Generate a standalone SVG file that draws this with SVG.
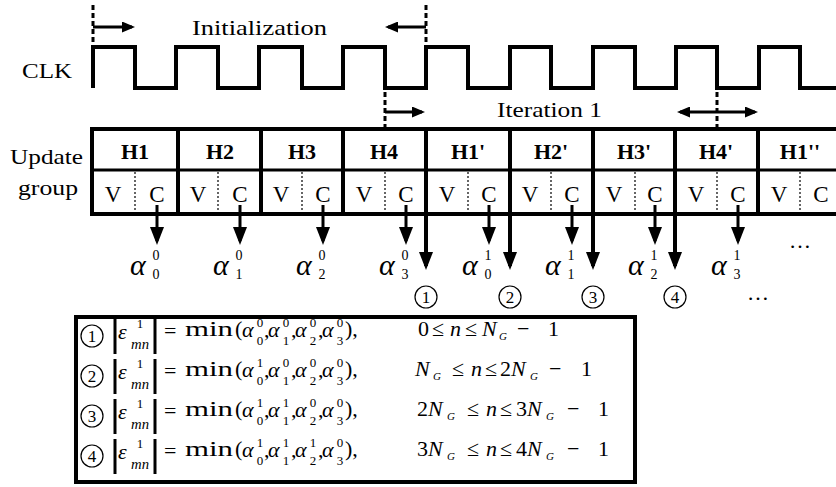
<svg xmlns="http://www.w3.org/2000/svg" width="836" height="487" viewBox="0 0 836 487" font-family="'Liberation Serif', 'Times New Roman', serif">
<style>
text{font-family:"Liberation Serif","Times New Roman",serif;fill:#000}
.lbl{font-size:22px}
.hd{font-size:22px;font-weight:bold;text-anchor:middle}
.vc{font-size:23px;text-anchor:middle}
.thick{stroke:#000;stroke-width:4;fill:none}
.mid{stroke:#000;stroke-width:3;fill:none}
.dot{stroke:#000;stroke-width:1.2;stroke-dasharray:2 2;fill:none}
.dash{stroke:#000;stroke-width:3;stroke-dasharray:5 3;fill:none}
.arr{stroke:#000;stroke-width:3;fill:none}
.ga{font-size:30px;font-style:italic}
.ix{font-size:14px;text-anchor:middle}
.cn{fill:#fff;stroke:#000;stroke-width:1.2}
.cd{font-size:17px;text-anchor:middle}
.m{font-size:22px}
.mi{font-size:22px;font-style:italic}
.s{font-size:13px;text-anchor:middle}
.si{font-size:14px;font-style:italic}
.g{font-size:11px;font-style:italic}
.bar{stroke:#000;stroke-width:3}
</style>
<defs>
<marker id="down" markerUnits="userSpaceOnUse" markerWidth="18" markerHeight="14" refX="14" refY="7" orient="auto">
<path d="M0,0 L18,7 L0,14 Z" fill="#000"/>
</marker>
<marker id="side" markerUnits="userSpaceOnUse" markerWidth="13" markerHeight="11" refX="10" refY="5.5" orient="auto-start-reverse">
<path d="M0,0 L13,5.5 L0,11 Z" fill="#000"/>
</marker>
</defs>

<!-- clock waveform and phase markers -->
<g id="clock">
<text class="lbl" x="22" y="78" font-size="20" textLength="50" lengthAdjust="spacingAndGlyphs">CLK</text>
<path class="thick" d="M93,88 V47 H135 V88 H176 V47 H218 V88 H259 V47 H302 V88 H343 V47 H385 V88 H426 V47 H468 V88 H510 V47 H551 V88 H593 V47 H635 V88 H676 V47 H717 V88 H759 V47 H800 V88 H836"/>
<line class="dash" x1="93" y1="5" x2="93" y2="46"/>
<line class="dash" x1="426" y1="5" x2="426" y2="46"/>
<line class="dash" x1="385" y1="92" x2="385" y2="128"/>
<line class="dash" x1="717" y1="92" x2="717" y2="128"/>
</g>

<g id="phase-labels">
<text class="lbl" x="192" y="35" textLength="135" lengthAdjust="spacingAndGlyphs">Initialization</text>
<text class="lbl" x="497" y="117" textLength="105" lengthAdjust="spacingAndGlyphs">Iteration 1</text>
</g>

<!-- update group table -->
<g id="update-table">
<text class="lbl" x="10" y="164" textLength="73" lengthAdjust="spacingAndGlyphs">Update</text>
<text class="lbl" x="18" y="195" textLength="60" lengthAdjust="spacingAndGlyphs">group</text>
<line class="thick" x1="90" y1="129" x2="836" y2="129"/>
<line class="mid" x1="92" y1="170" x2="836" y2="170"/>
<line class="thick" x1="90" y1="214" x2="836" y2="214"/>
<g class="thick">
<line x1="92" y1="127" x2="92" y2="216"/>
<line x1="178" y1="127" x2="178" y2="216"/>
<line x1="261" y1="127" x2="261" y2="216"/>
<line x1="343" y1="127" x2="343" y2="216"/>
<line x1="426" y1="127" x2="426" y2="216"/>
<line x1="510" y1="127" x2="510" y2="216"/>
<line x1="593" y1="127" x2="593" y2="216"/>
<line x1="675" y1="127" x2="675" y2="216"/>
<line x1="758" y1="127" x2="758" y2="216"/>
</g>
<g class="dot">
<line x1="135" y1="172" x2="135" y2="212"/>
<line x1="218" y1="172" x2="218" y2="212"/>
<line x1="302" y1="172" x2="302" y2="212"/>
<line x1="385" y1="172" x2="385" y2="212"/>
<line x1="468" y1="172" x2="468" y2="212"/>
<line x1="551" y1="172" x2="551" y2="212"/>
<line x1="635" y1="172" x2="635" y2="212"/>
<line x1="717" y1="172" x2="717" y2="212"/>
<line x1="800" y1="172" x2="800" y2="212"/>
</g>
</g>

<g id="H1"><text class="hd" x="135" y="159">H1</text><text class="vc" x="113" y="202">V</text><text class="vc" x="157" y="202">C</text></g>
<g id="H2"><text class="hd" x="220" y="159">H2</text><text class="vc" x="198" y="202">V</text><text class="vc" x="240" y="202">C</text></g>
<g id="H3"><text class="hd" x="302" y="159">H3</text><text class="vc" x="281" y="202">V</text><text class="vc" x="323" y="202">C</text></g>
<g id="H4"><text class="hd" x="384" y="159">H4</text><text class="vc" x="364" y="202">V</text><text class="vc" x="406" y="202">C</text></g>
<g id="H1p"><text class="hd" x="468" y="159">H1'</text><text class="vc" x="447" y="202">V</text><text class="vc" x="489" y="202">C</text></g>
<g id="H2p"><text class="hd" x="551" y="159">H2'</text><text class="vc" x="530" y="202">V</text><text class="vc" x="572" y="202">C</text></g>
<g id="H3p"><text class="hd" x="634" y="159">H3'</text><text class="vc" x="614" y="202">V</text><text class="vc" x="655" y="202">C</text></g>
<g id="H4p"><text class="hd" x="716" y="159">H4'</text><text class="vc" x="696" y="202">V</text><text class="vc" x="738" y="202">C</text></g>
<g id="H1pp"><text class="hd" x="800" y="159">H1''</text><text class="vc" x="779" y="202">V</text><text class="vc" x="821" y="202">C</text></g>

<!-- arrows -->
<g id="connectors">
<line class="arr" x1="93" y1="27" x2="132" y2="27" marker-end="url(#side)"/>
<line class="arr" x1="426" y1="27" x2="388" y2="27" marker-end="url(#side)"/>
<line class="arr" x1="385" y1="112" x2="422" y2="112" marker-end="url(#side)"/>
<line class="arr" x1="680" y1="112" x2="755" y2="112" marker-start="url(#side)" marker-end="url(#side)"/>
<g class="arr">
<line x1="157" y1="205" x2="157" y2="241" marker-end="url(#down)"/>
<line x1="240" y1="205" x2="240" y2="241" marker-end="url(#down)"/>
<line x1="323" y1="205" x2="323" y2="241" marker-end="url(#down)"/>
<line x1="406" y1="205" x2="406" y2="241" marker-end="url(#down)"/>
<line x1="489" y1="205" x2="489" y2="241" marker-end="url(#down)"/>
<line x1="572" y1="205" x2="572" y2="241" marker-end="url(#down)"/>
<line x1="655" y1="205" x2="655" y2="241" marker-end="url(#down)"/>
<line x1="738" y1="205" x2="738" y2="241" marker-end="url(#down)"/>
</g>
<g class="thick">
<line x1="426" y1="214" x2="426" y2="266" marker-end="url(#down)"/>
<line x1="510" y1="214" x2="510" y2="266" marker-end="url(#down)"/>
<line x1="593" y1="214" x2="593" y2="266" marker-end="url(#down)"/>
<line x1="675" y1="214" x2="675" y2="266" marker-end="url(#down)"/>
</g>
</g>

<!-- check-node outputs -->
<g id="alpha-0-0"><text class="ga" x="130" y="275">α</text><text class="ix" x="156" y="260">0</text><text class="ix" x="156" y="279">0</text></g>
<g id="alpha-1-0"><text class="ga" x="213" y="275">α</text><text class="ix" x="239" y="260">0</text><text class="ix" x="239" y="279">1</text></g>
<g id="alpha-2-0"><text class="ga" x="296" y="275">α</text><text class="ix" x="322" y="260">0</text><text class="ix" x="322" y="279">2</text></g>
<g id="alpha-3-0"><text class="ga" x="379" y="275">α</text><text class="ix" x="405" y="260">0</text><text class="ix" x="405" y="279">3</text></g>
<g id="alpha-0-1"><text class="ga" x="462" y="275">α</text><text class="ix" x="488" y="260">1</text><text class="ix" x="488" y="279">0</text></g>
<g id="alpha-1-1"><text class="ga" x="545" y="275">α</text><text class="ix" x="571" y="260">1</text><text class="ix" x="571" y="279">1</text></g>
<g id="alpha-2-1"><text class="ga" x="628" y="275">α</text><text class="ix" x="654" y="260">1</text><text class="ix" x="654" y="279">2</text></g>
<g id="alpha-3-1"><text class="ga" x="711" y="275">α</text><text class="ix" x="737" y="260">1</text><text class="ix" x="737" y="279">3</text></g>
<text class="m" x="800" y="248" text-anchor="middle">…</text>

<g id="step-1"><circle class="cn" cx="426" cy="297" r="11"/><text class="cd" x="426" y="303">1</text></g>
<g id="step-2"><circle class="cn" cx="510" cy="297" r="11"/><text class="cd" x="510" y="303">2</text></g>
<g id="step-3"><circle class="cn" cx="593" cy="297" r="11"/><text class="cd" x="593" y="303">3</text></g>
<g id="step-4"><circle class="cn" cx="675" cy="297" r="11"/><text class="cd" x="675" y="303">4</text></g>
<text class="m" x="758" y="300" text-anchor="middle">…</text>

<!-- min-sum update equations -->
<g id="equations">
<rect x="76" y="317" width="559" height="165" class="thick"/>

<g id="eq-1">
<circle class="cn" cx="92" cy="336" r="11"/><text class="cd" x="92" y="342">1</text>
<line class="bar" x1="115" y1="319" x2="115" y2="354"/><line class="bar" x1="155" y1="319" x2="155" y2="354"/>
<text class="mi" x="118" y="339" font-size="24">ε</text><text class="s" x="140" y="328">1</text><text class="si" x="131" y="349" textLength="18" lengthAdjust="spacingAndGlyphs">mn</text>
<text class="m" x="164" y="338">=</text>
<text class="m" x="185" y="336" textLength="48" lengthAdjust="spacingAndGlyphs">min</text><text class="m" x="235" y="336">(</text>
<text class="mi" x="242" y="337">α</text><text class="s" x="260" y="327">0</text><text class="s" x="260" y="345">0</text><text class="m" x="264" y="337">,</text>
<text class="mi" x="268" y="337">α</text><text class="s" x="286" y="327">0</text><text class="s" x="286" y="345">1</text><text class="m" x="291" y="337">,</text>
<text class="mi" x="295" y="337">α</text><text class="s" x="313" y="327">0</text><text class="s" x="313" y="345">2</text><text class="m" x="318" y="337">,</text>
<text class="mi" x="322" y="337">α</text><text class="s" x="340" y="327">0</text><text class="s" x="340" y="345">3</text><text class="m" x="345" y="336">),</text>
<text class="m" y="336"><tspan x="418">0</tspan><tspan x="432">≤</tspan><tspan x="450" font-style="italic">n</tspan><tspan x="465">≤</tspan><tspan x="482" font-style="italic">N</tspan></text>
<text class="g" x="499" y="340">G</text>
<text class="m" y="336"><tspan x="517">−</tspan><tspan x="548">1</tspan></text>
</g>

<g id="eq-2">
<circle class="cn" cx="92" cy="376" r="11"/><text class="cd" x="92" y="382">2</text>
<line class="bar" x1="115" y1="359" x2="115" y2="394"/><line class="bar" x1="155" y1="359" x2="155" y2="394"/>
<text class="mi" x="118" y="379" font-size="24">ε</text><text class="s" x="140" y="368">1</text><text class="si" x="131" y="389" textLength="18" lengthAdjust="spacingAndGlyphs">mn</text>
<text class="m" x="164" y="378">=</text>
<text class="m" x="185" y="376" textLength="48" lengthAdjust="spacingAndGlyphs">min</text><text class="m" x="235" y="376">(</text>
<text class="mi" x="242" y="377">α</text><text class="s" x="260" y="367">1</text><text class="s" x="260" y="385">0</text><text class="m" x="264" y="377">,</text>
<text class="mi" x="268" y="377">α</text><text class="s" x="286" y="367">0</text><text class="s" x="286" y="385">1</text><text class="m" x="291" y="377">,</text>
<text class="mi" x="295" y="377">α</text><text class="s" x="313" y="367">0</text><text class="s" x="313" y="385">2</text><text class="m" x="318" y="377">,</text>
<text class="mi" x="322" y="377">α</text><text class="s" x="340" y="367">0</text><text class="s" x="340" y="385">3</text><text class="m" x="345" y="376">),</text>
<text class="m" y="376"><tspan x="415" font-style="italic">N</tspan></text><text class="g" x="433" y="380">G</text>
<text class="m" y="376"><tspan x="452">≤</tspan><tspan x="471" font-style="italic">n</tspan><tspan x="485">≤</tspan><tspan x="500">2</tspan><tspan x="511" font-style="italic">N</tspan></text>
<text class="g" x="530" y="380">G</text>
<text class="m" y="376"><tspan x="549">−</tspan><tspan x="581">1</tspan></text>
</g>

<g id="eq-3">
<circle class="cn" cx="92" cy="416" r="11"/><text class="cd" x="92" y="422">3</text>
<line class="bar" x1="115" y1="399" x2="115" y2="434"/><line class="bar" x1="155" y1="399" x2="155" y2="434"/>
<text class="mi" x="118" y="419" font-size="24">ε</text><text class="s" x="140" y="408">1</text><text class="si" x="131" y="429" textLength="18" lengthAdjust="spacingAndGlyphs">mn</text>
<text class="m" x="164" y="418">=</text>
<text class="m" x="185" y="416" textLength="48" lengthAdjust="spacingAndGlyphs">min</text><text class="m" x="235" y="416">(</text>
<text class="mi" x="242" y="417">α</text><text class="s" x="260" y="407">1</text><text class="s" x="260" y="425">0</text><text class="m" x="264" y="417">,</text>
<text class="mi" x="268" y="417">α</text><text class="s" x="286" y="407">1</text><text class="s" x="286" y="425">1</text><text class="m" x="291" y="417">,</text>
<text class="mi" x="295" y="417">α</text><text class="s" x="313" y="407">0</text><text class="s" x="313" y="425">2</text><text class="m" x="318" y="417">,</text>
<text class="mi" x="322" y="417">α</text><text class="s" x="340" y="407">0</text><text class="s" x="340" y="425">3</text><text class="m" x="345" y="416">),</text>
<text class="m" y="416"><tspan x="417">2</tspan><tspan x="428" font-style="italic">N</tspan></text><text class="g" x="447" y="420">G</text>
<text class="m" y="416"><tspan x="467">≤</tspan><tspan x="486" font-style="italic">n</tspan><tspan x="500">≤</tspan><tspan x="516">3</tspan><tspan x="527" font-style="italic">N</tspan></text>
<text class="g" x="546" y="420">G</text>
<text class="m" y="416"><tspan x="567">−</tspan><tspan x="598">1</tspan></text>
</g>

<g id="eq-4">
<circle class="cn" cx="92" cy="456" r="11"/><text class="cd" x="92" y="462">4</text>
<line class="bar" x1="115" y1="439" x2="115" y2="474"/><line class="bar" x1="155" y1="439" x2="155" y2="474"/>
<text class="mi" x="118" y="459" font-size="24">ε</text><text class="s" x="140" y="448">1</text><text class="si" x="131" y="469" textLength="18" lengthAdjust="spacingAndGlyphs">mn</text>
<text class="m" x="164" y="458">=</text>
<text class="m" x="185" y="456" textLength="48" lengthAdjust="spacingAndGlyphs">min</text><text class="m" x="235" y="456">(</text>
<text class="mi" x="242" y="457">α</text><text class="s" x="260" y="447">1</text><text class="s" x="260" y="465">0</text><text class="m" x="264" y="457">,</text>
<text class="mi" x="268" y="457">α</text><text class="s" x="286" y="447">1</text><text class="s" x="286" y="465">1</text><text class="m" x="291" y="457">,</text>
<text class="mi" x="295" y="457">α</text><text class="s" x="313" y="447">1</text><text class="s" x="313" y="465">2</text><text class="m" x="318" y="457">,</text>
<text class="mi" x="322" y="457">α</text><text class="s" x="340" y="447">0</text><text class="s" x="340" y="465">3</text><text class="m" x="345" y="456">),</text>
<text class="m" y="456"><tspan x="417">3</tspan><tspan x="428" font-style="italic">N</tspan></text><text class="g" x="447" y="460">G</text>
<text class="m" y="456"><tspan x="467">≤</tspan><tspan x="486" font-style="italic">n</tspan><tspan x="500">≤</tspan><tspan x="516">4</tspan><tspan x="527" font-style="italic">N</tspan></text>
<text class="g" x="546" y="460">G</text>
<text class="m" y="456"><tspan x="567">−</tspan><tspan x="598">1</tspan></text>
</g>
</g>
</svg>
